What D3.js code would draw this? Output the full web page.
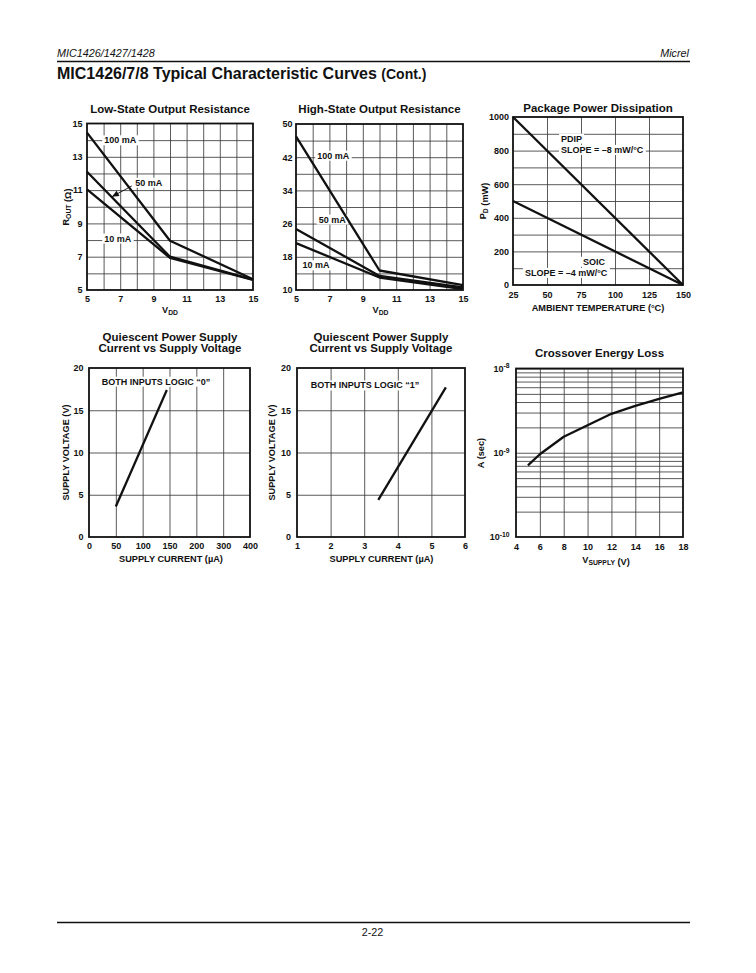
<!DOCTYPE html>
<html>
<head>
<meta charset="utf-8">
<script src="https://cdn.jsdelivr.net/npm/d3@7"></script>
<style>
  body { margin: 0; background: #fff; }
  text { font-family: "Liberation Sans", Arial, sans-serif; fill: #111; }
</style>
</head>
<body>
<div id="wrapper"></div>
<script>
// ---- data ----
// low-state output resistance (ohm) vs VDD
const lowVdd = [5, 10, 15];
const low100 = [14.45, 7.96, 5.65];
const low50 = [12.1, 7.0, 5.62];
const low10 = [11.05, 6.93, 5.6];
const lowTicks = [5, 7, 9, 11, 13, 15];

// high-state output resistance (ohm) vs VDD
const hiVdd = [5, 10, 15];
const hi100 = [47, 14.7, 11.2];
const hi50 = [24.7, 13.4, 10.6];
const hi10 = [21.3, 13.0, 10.2];
const hiYTicks = [10, 18, 26, 34, 42, 50];

// package power dissipation (mW) vs ambient temp
const pdTemp = [25, 150];
const pdPdip = [1000, 0];
const pdSoic = [500, 0];

// quiescent supply current, logic "0" (uA) / logic "1" (uA)
const q0Ticks = [0, 50, 100, 150, 200, 300, 400];
const q0Current = [50, 145];
const q0Volt = [3.6, 17.4];
const q1Current = [3.42, 5.43];
const q1Volt = [4.4, 17.7];
const qVoltTicks = [0, 5, 10, 15, 20];

// crossover energy loss
const xoVolt = [5, 6, 8, 10, 12, 14, 16, 18];
const xoLoss = [7.1e-10, 9.6e-10, 1.55e-9, 2.12e-9, 2.9e-9, 3.6e-9, 4.35e-9, 5.2e-9];
const xoTicks = [4, 6, 8, 10, 12, 14, 16, 18];

const svg = d3.select("#wrapper").append("svg")
  .attr("width", 756)
  .attr("height", 973);

// page header / footer
svg.append("text").attr("x", 57).attr("y", 56.5)
  .attr("font-size", "10.8px").attr("font-style", "italic").text("MIC1426/1427/1428");
svg.append("text").attr("x", 689).attr("y", 56.5).attr("text-anchor", "end")
  .attr("font-size", "10.8px").attr("font-style", "italic").text("Micrel");
svg.append("line").attr("x1", 57).attr("x2", 690).attr("y1", 61.5).attr("y2", 61.5)
  .attr("stroke", "#111").attr("stroke-width", 1.4);
const pageTitle = svg.append("text").attr("x", 57).attr("y", 78.5)
  .attr("font-size", "16px").attr("font-weight", "bold")
  .text("MIC1426/7/8 Typical Characteristic Curves ");
pageTitle.append("tspan").attr("font-size", "14px").text("(Cont.)");
svg.append("line").attr("x1", 57).attr("x2", 690).attr("y1", 922.5).attr("y2", 922.5)
  .attr("stroke", "#111").attr("stroke-width", 1.4);
svg.append("text").attr("x", 372.5).attr("y", 936).attr("text-anchor", "middle")
  .attr("font-size", "10.8px").text("2-22");

// frame with grid + tick labels
function drawFrame(p) {
  const g = svg.append("g").attr("transform", `translate(${p.left},${p.top})`);

  g.append("g").attr("class", "grid")
    .attr("transform", `translate(0,${p.height})`)
    .call(d3.axisBottom(p.x).tickValues(p.xGrid).tickSize(-p.height).tickFormat(""));
  g.append("g").attr("class", "grid")
    .call(d3.axisLeft(p.y).tickValues(p.yGrid).tickSize(-p.width).tickFormat(""));
  g.selectAll(".grid .domain").remove();
  g.selectAll(".grid line").attr("stroke", "#3c3c3c").attr("stroke-width", 0.85);

  const xAxis = g.append("g")
    .attr("transform", `translate(0,${p.height})`)
    .call(d3.axisBottom(p.x).tickValues(p.xTicks).tickSize(0).tickPadding(p.xPad)
      .tickFormat(p.xFormat || d3.format("")));
  const yAxis = g.append("g")
    .call(d3.axisLeft(p.y).tickValues(p.yTicks).tickSize(0).tickPadding(p.yPad)
      .tickFormat(p.yFormat || d3.format("")));
  [xAxis, yAxis].forEach((a) => {
    a.select(".domain").remove();
    a.attr("font-family", null).attr("font-size", null);
    a.selectAll("text").attr("font-size", "9px").attr("font-weight", "bold").attr("fill", "#111");
  });

  g.append("rect")
    .attr("width", p.width).attr("height", p.height)
    .attr("fill", "none").attr("stroke", "#111").attr("stroke-width", 1.8);

  g.xAxis = xAxis;
  g.yAxis = yAxis;
  return g;
}

function drawLine(g, x, y, xs, ys) {
  const lineGenerator = d3.line().x((d) => x(d[0])).y((d) => y(d[1]));
  g.append("path")
    .attr("d", lineGenerator(xs.map((v, i) => [v, ys[i]])))
    .attr("fill", "none")
    .attr("stroke", "#111")
    .attr("stroke-width", 2.3)
    .attr("stroke-linejoin", "round");
}

// white-backed annotation text (drawn before the curves so they stay unbroken)
function note(g, px, py, str, anchor) {
  const t = g.append("text").attr("x", px).attr("y", py).attr("dy", "0.35em")
    .attr("text-anchor", anchor || "middle")
    .attr("font-size", "9px").attr("font-weight", "bold").text(str);
  const b = t.node().getBBox();
  g.insert("rect", () => t.node())
    .attr("x", b.x - 2).attr("y", b.y).attr("width", b.width + 4).attr("height", b.height)
    .attr("fill", "#fff");
  return t;
}

function title(lines, cx, y) {
  lines.forEach((s, i) => {
    svg.append("text").attr("x", cx).attr("y", y + i * 11.3).attr("text-anchor", "middle")
      .attr("font-size", "11.5px").attr("font-weight", "bold").text(s);
  });
}

// axis title, optional subscript part
function axisTitle(cx, cy, parts, rotate) {
  const t = svg.append("text")
    .attr("transform", `translate(${cx},${cy})` + (rotate ? " rotate(-90)" : ""))
    .attr("text-anchor", "middle")
    .attr("font-size", "9.2px").attr("font-weight", "bold");
  parts.forEach((p) => {
    if (p.sub) {
      t.append("tspan").attr("font-size", "6.8px").attr("dy", "2").text(p.text);
      t.append("tspan").attr("dy", "-2").text("");
    } else {
      t.append("tspan").text(p.text);
    }
  });
}

// ---- Low-State Output Resistance ----
{
  const w = 166, h = 166.5;
  const x = d3.scaleLinear().domain([5, 15]).range([0, w]);
  const y = d3.scaleLinear().domain([5, 15]).range([h, 0]);
  const g = drawFrame({
    left: 87, top: 123.5, width: w, height: h, x, y,
    xTicks: lowTicks, yTicks: lowTicks,
    xGrid: d3.range(6, 15), yGrid: d3.range(6, 15), xPad: 5.5, yPad: 4.5,
  });
  note(g, x(7.0), y(14.0), "100 mA");
  note(g, x(8.72), y(11.45), "50 mA");
  note(g, x(6.85), y(8.1), "10 mA");
  drawLine(g, x, y, lowVdd, low100);
  drawLine(g, x, y, lowVdd, low50);
  drawLine(g, x, y, lowVdd, low10);
  // arrow to the 50 mA curve
  const ax0 = x(7.7), ay0 = y(11.25), ax1 = x(6.5), ay1 = y(10.6);
  g.append("line").attr("x1", ax0).attr("y1", ay0).attr("x2", ax1).attr("y2", ay1)
    .attr("stroke", "#111").attr("stroke-width", 0.9);
  const ang = Math.atan2(ay1 - ay0, ax1 - ax0);
  const hl = 7, hw = 3;
  const bx = ax1 - hl * Math.cos(ang), by = ay1 - hl * Math.sin(ang);
  g.append("path")
    .attr("d", `M${ax1},${ay1}L${bx + hw * Math.sin(ang)},${by - hw * Math.cos(ang)}L${bx - hw * Math.sin(ang)},${by + hw * Math.cos(ang)}Z`)
    .attr("fill", "#111");
  title(["Low-State Output Resistance"], 170, 113);
  axisTitle(69, 207, [{ text: "R" }, { text: "OUT", sub: true }, { text: " (Ω)" }], true);
  axisTitle(170, 313, [{ text: "V" }, { text: "DD", sub: true }], false);
}

// ---- High-State Output Resistance ----
{
  const w = 167, h = 166;
  const x = d3.scaleLinear().domain([5, 15]).range([0, w]);
  const y = d3.scaleLinear().domain([10, 50]).range([h, 0]);
  const g = drawFrame({
    left: 296, top: 124, width: w, height: h, x, y,
    xTicks: lowTicks, yTicks: hiYTicks,
    xGrid: d3.range(6, 15), yGrid: d3.range(14, 50, 4), xPad: 5.5, yPad: 3.5,
  });
  note(g, x(7.23), y(42.4), "100 mA");
  note(g, x(7.17), y(27.0), "50 mA");
  note(g, x(6.2), y(16.0), "10 mA");
  drawLine(g, x, y, hiVdd, hi100);
  drawLine(g, x, y, hiVdd, hi50);
  drawLine(g, x, y, hiVdd, hi10);
  title(["High-State Output Resistance"], 379.5, 113);
  axisTitle(380.5, 313, [{ text: "V" }, { text: "DD", sub: true }], false);
}

// ---- Package Power Dissipation ----
{
  const w = 170, h = 168;
  const x = d3.scaleLinear().domain([25, 150]).range([0, w]);
  const y = d3.scaleLinear().domain([0, 1000]).range([h, 0]);
  const g = drawFrame({
    left: 513, top: 117, width: w, height: h, x, y,
    xTicks: [25, 50, 75, 100, 125, 150], yTicks: d3.range(0, 1001, 200),
    xGrid: [50, 75, 100, 125], yGrid: d3.range(100, 1000, 100), xPad: 7, yPad: 4,
  });
  note(g, x(60.3), y(872), "PDIP", "start");
  note(g, x(60.3), y(805), "SLOPE = –8 mW/°C", "start");
  note(g, x(92.6), y(139), "SOIC", "end");
  note(g, x(33.8), y(73), "SLOPE = –4 mW/°C", "start");
  drawLine(g, x, y, pdTemp, pdPdip);
  drawLine(g, x, y, pdTemp, pdSoic);
  title(["Package Power Dissipation"], 598, 111.7);
  axisTitle(486, 201, [{ text: "P" }, { text: "D", sub: true }, { text: " (mW)" }], true);
  axisTitle(598, 311, [{ text: "AMBIENT TEMPERATURE (°C)" }], false);
}

// ---- Quiescent supply, logic "0" ----
{
  const w = 161, h = 169;
  const x = d3.scaleLinear().domain(q0Ticks).range(q0Ticks.map((d, i) => (i * w) / 6));
  const y = d3.scaleLinear().domain([0, 20]).range([h, 0]);
  const g = drawFrame({
    left: 89, top: 368, width: w, height: h, x, y,
    xTicks: q0Ticks, yTicks: qVoltTicks,
    xGrid: [50, 100, 150, 200, 300], yGrid: [5, 10, 15], xPad: 6, yPad: 5.5,
  });
  note(g, x(23.7), y(18.4), "BOTH INPUTS LOGIC \u201C0\u201D", "start");
  drawLine(g, x, y, q0Current, q0Volt);
  title(["Quiescent Power Supply", "Current vs Supply Voltage"], 170, 341);
  axisTitle(69, 452.5, [{ text: "SUPPLY VOLTAGE (V)" }], true);
  axisTitle(171, 562.3, [{ text: "SUPPLY CURRENT (µA)" }], false);
}

// ---- Quiescent supply, logic "1" ----
{
  const w = 168, h = 169;
  const x = d3.scaleLinear().domain([1, 6]).range([0, w]);
  const y = d3.scaleLinear().domain([0, 20]).range([h, 0]);
  const g = drawFrame({
    left: 297, top: 368, width: w, height: h, x, y,
    xTicks: [1, 2, 3, 4, 5, 6], yTicks: qVoltTicks,
    xGrid: [2, 3, 4, 5], yGrid: [5, 10, 15], xPad: 6, yPad: 6,
  });
  note(g, x(1.41), y(17.95), "BOTH INPUTS LOGIC \u201C1\u201D", "start");
  drawLine(g, x, y, q1Current, q1Volt);
  title(["Quiescent Power Supply", "Current vs Supply Voltage"], 381, 341);
  axisTitle(275, 452.5, [{ text: "SUPPLY VOLTAGE (V)" }], true);
  axisTitle(381.5, 562.3, [{ text: "SUPPLY CURRENT (µA)" }], false);
}

// ---- Crossover Energy Loss ----
{
  const w = 167, h = 168.5;
  const x = d3.scaleLinear().domain([4, 18]).range([0, w]);
  const y = d3.scaleLog().domain([1e-10, 1e-8]).range([h, 0]);
  const minor = [];
  [1e-10, 1e-9].forEach((dec) => d3.range(2, 11).forEach((k) => minor.push(k * dec)));
  const g = drawFrame({
    left: 516, top: 368.5, width: w, height: h, x, y,
    xTicks: xoTicks, yTicks: [1e-10, 1e-9, 1e-8],
    xGrid: [6, 8, 10, 12, 14, 16], yGrid: minor, xPad: 7, yPad: 6.5,
    yFormat: () => "",
  });
  g.yAxis.selectAll(".tick text").each(function (d) {
    const t = d3.select(this);
    t.append("tspan").text("10");
    t.append("tspan").attr("dy", "-0.5em").attr("font-size", "6.8px")
      .text(String(Math.round(Math.log10(d))));
  });
  drawLine(g, x, y, xoVolt, xoLoss);
  title(["Crossover Energy Loss"], 599.5, 357.3);
  axisTitle(484, 453, [{ text: "A (sec)" }], true);
  axisTitle(606, 562.7, [{ text: "V" }, { text: "SUPPLY", sub: true }, { text: " (V)" }], false);
}
</script>
</body>
</html>
